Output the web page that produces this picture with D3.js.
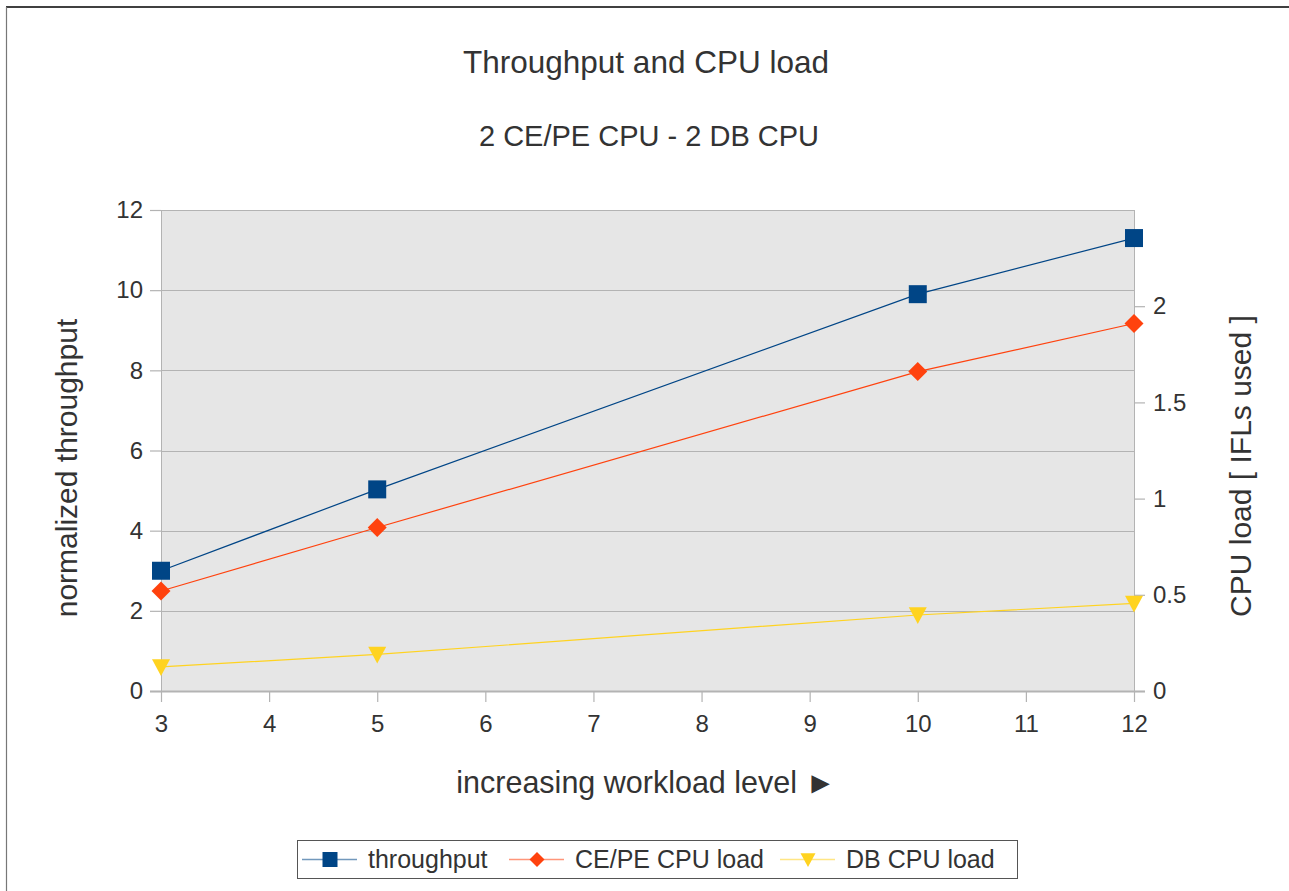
<!DOCTYPE html>
<html>
<head>
<meta charset="utf-8">
<script src="https://cdn.jsdelivr.net/npm/d3@7"></script>
<style>
  html, body { margin: 0; padding: 0; background: #fff; }
  svg { display: block; font-family: "Liberation Sans", Arial, sans-serif; }
</style>
</head>
<body>
<svg id="chart" width="1289" height="891"></svg>
<script>
// ---- data ----
const workload = [3, 5, 10, 12];
const throughput = [3.0, 5.03, 9.9, 11.3];
const cepeLoad = [0.52, 0.85, 1.66, 1.91];
const dbLoad = [0.125, 0.19, 0.395, 0.455];
const xTicks = [3, 4, 5, 6, 7, 8, 9, 10, 11, 12];
const leftTicks = [0, 2, 4, 6, 8, 10, 12];
const rightTicks = [0, 0.5, 1, 1.5, 2];
const seriesNames = ["throughput", "CE/PE CPU load", "DB CPU load"];
const seriesColors = ["#004586", "#ff420e", "#ffd320"];

const svg = d3.select("#chart");
const W = 1289, H = 891;
const m = { left: 161, right: 1134, top: 210, bottom: 691 };
const textColor = "#333333";
const gridColor = "#b3b3b3";

const x = d3.scaleLinear().domain([3, 12]).range([m.left, m.right]);
const yL = d3.scaleLinear().domain([0, 12]).range([m.bottom, m.top]);
const yR = d3.scaleLinear().domain([0, 2.5]).range([m.bottom, m.top]);

// outer frame (top and left edges visible)
svg.append("line").attr("x1", 6).attr("x2", W).attr("y1", 7).attr("y2", 7)
  .attr("stroke", "#000").attr("stroke-width", 1.5);
svg.append("line").attr("x1", 6.5).attr("x2", 6.5).attr("y1", 7).attr("y2", H)
  .attr("stroke", "#777").attr("stroke-width", 1.2);

// titles
svg.append("text").attr("x", 646).attr("y", 73).attr("text-anchor", "middle")
  .attr("font-size", 31.5).attr("fill", textColor).text("Throughput and CPU load");
svg.append("text").attr("x", 649).attr("y", 146).attr("text-anchor", "middle")
  .attr("font-size", 29).attr("fill", textColor).text("2 CE/PE CPU - 2 DB CPU");

// plot background
svg.append("rect").attr("x", m.left).attr("y", m.top)
  .attr("width", m.right - m.left).attr("height", m.bottom - m.top)
  .attr("fill", "#e6e6e6");

// horizontal gridlines (left axis)
svg.append("g").selectAll("line").data(leftTicks).join("line")
  .attr("x1", m.left).attr("x2", m.right)
  .attr("y1", d => Math.round(yL(d)) + 0.5).attr("y2", d => Math.round(yL(d)) + 0.5)
  .attr("stroke", gridColor).attr("stroke-width", 1);

// plot side borders
svg.append("line").attr("x1", m.left + 0.5).attr("x2", m.left + 0.5)
  .attr("y1", m.top).attr("y2", m.bottom).attr("stroke", gridColor);
svg.append("line").attr("x1", m.right + 0.5).attr("x2", m.right + 0.5)
  .attr("y1", m.top).attr("y2", m.bottom).attr("stroke", gridColor);

// left axis
const gL = svg.append("g").attr("transform", `translate(${m.left},0)`)
  .call(d3.axisLeft(yL).tickValues(leftTicks).tickFormat(d3.format("d")).tickSize(11).tickPadding(7));
// right axis
const gR = svg.append("g").attr("transform", `translate(${m.right},0)`)
  .call(d3.axisRight(yR).tickValues(rightTicks).tickFormat(d => String(d)).tickSize(11).tickPadding(8));
// bottom axis
const gB = svg.append("g").attr("transform", `translate(0,${m.bottom})`)
  .call(d3.axisBottom(x).tickValues(xTicks).tickFormat(d3.format("d")).tickSize(11).tickPadding(13));

[gL, gR, gB].forEach(g => {
  g.select(".domain").remove();
  g.selectAll(".tick line").attr("stroke", gridColor).attr("stroke-width", 1.2);
  g.selectAll(".tick text").attr("fill", textColor).attr("font-size", 24)
    .attr("font-family", "'Liberation Sans', Arial, sans-serif");
});
// bottom axis baseline
svg.append("line").attr("x1", m.left - 11).attr("x2", m.right + 11)
  .attr("y1", m.bottom + 0.5).attr("y2", m.bottom + 0.5)
  .attr("stroke", gridColor).attr("stroke-width", 2);

// axis titles
svg.append("text").attr("transform", "translate(66,468) rotate(-90)")
  .attr("text-anchor", "middle").attr("dy", "0.35em")
  .attr("font-size", 30).attr("fill", textColor).text("normalized throughput");
svg.append("text").attr("transform", "translate(1240,466) rotate(-90)")
  .attr("text-anchor", "middle").attr("dy", "0.35em")
  .attr("font-size", 30).attr("fill", textColor).text("CPU load [ IFLs used ]");
svg.append("text").attr("x", 646).attr("y", 793).attr("text-anchor", "middle")
  .attr("font-size", 30.5).attr("fill", textColor).text("increasing workload level \u25BA");

// marker shapes
function markerPath(type, s) {
  const h = s / 2;
  if (type === 0) return `M${-h},${-h}H${h}V${h}H${-h}Z`;
  if (type === 1) return `M0,${-h}L${h},0L0,${h}L${-h},0Z`;
  return `M${-h},${-h * 0.85}L${h},${-h * 0.85}L0,${h}Z`;
}

const seriesData = [
  { vals: throughput, y: yL },
  { vals: cepeLoad, y: yR },
  { vals: dbLoad, y: yR }
];

const plot = svg.append("g");
seriesData.forEach((s, i) => {
  const pts = workload.map((w, j) => [x(w), s.y(s.vals[j])]);
  plot.append("path").attr("d", d3.line()(pts)).attr("fill", "none")
    .attr("stroke", seriesColors[i]).attr("stroke-width", 1.2);
});
seriesData.forEach((s, i) => {
  const pts = workload.map((w, j) => [x(w), s.y(s.vals[j])]);
  plot.append("g").selectAll("path").data(pts).join("path")
    .attr("transform", d => `translate(${d[0]},${d[1]})`)
    .attr("d", markerPath(i, i === 1 ? 19 : 18))
    .attr("fill", seriesColors[i]);
});

// legend
const lg = svg.append("g");
lg.append("rect").attr("x", 297.5).attr("y", 840.5).attr("width", 720).attr("height", 38)
  .attr("fill", "#fff").attr("stroke", "#555").attr("stroke-width", 1);
const legendX = [302, 509, 780];
seriesNames.forEach((name, i) => {
  const x0 = legendX[i];
  lg.append("line").attr("x1", x0).attr("x2", x0 + 55).attr("y1", 859.5).attr("y2", 859.5)
    .attr("stroke", seriesColors[i]).attr("stroke-width", 1.5).attr("opacity", 0.55);
  lg.append("path").attr("transform", `translate(${x0 + 28},859.5)`)
    .attr("d", markerPath(i, 15)).attr("fill", seriesColors[i]);
  lg.append("text").attr("x", x0 + 66).attr("y", 868).attr("font-size", 25)
    .attr("fill", textColor).text(name);
});
</script>
</body>
</html>
